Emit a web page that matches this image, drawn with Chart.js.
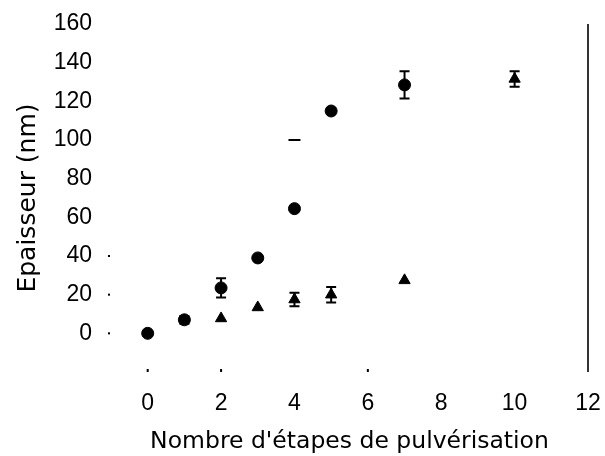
<!DOCTYPE html>
<html><head><meta charset="utf-8">
<script src="https://cdn.jsdelivr.net/npm/chart.js@4.4.0/dist/chart.umd.min.js"></script>
<style>html,body{margin:0;padding:0;background:#fff}#wrap{width:605px;height:456px}</style>
</head><body><div id="wrap"><canvas id="c" width="605" height="456"></canvas></div>
<script>
const circleX = [0, 1, 2, 3, 4, 5, 7];
const circleY = [0, 7, 23.5, 39, 64.5, 115, 128.5];
const circleErr = [0, 2, 5, 0, 0, 1.5, 7];
const triX = [2, 3, 4, 5, 7, 10];
const triY = [7.7, 13.4, 17.5, 20, 27.4, 131.6];
const triErr = [0, 0, 3.5, 4, 0, 4];
const strayX = [4];
const strayY = [100];
const xTicks = [0, 2, 4, 6, 8, 10, 12];
const yTicks = [0, 20, 40, 60, 80, 100, 120, 140, 160];
const xTickDots = [0, 2, 6];
const yTickDots = [0, 20, 40];
const xTitle = "Nombre d'étapes de pulvérisation";
const yTitle = "Epaisseur (nm)";

const FONT = "'Liberation Sans', Arial, sans-serif";
const TFONT = "'DejaVu Sans', sans-serif";
const toPts = (xs, ys) => xs.map((x, i) => ({x, y: ys[i]}));

const errPlugin = {
  id: 'errbars',
  afterDatasetsDraw(chart) {
    const ctx = chart.ctx, xs = chart.scales.x, ys = chart.scales.y;
    ctx.save();
    ctx.strokeStyle = '#000';
    ctx.lineWidth = 2;
    const sets = [[circleX, circleY, circleErr], [triX, triY, triErr]];
    sets.forEach(([X, Y, E]) => {
      X.forEach((x, i) => {
        if (!E[i]) return;
        const px = xs.getPixelForValue(x);
        const p1 = ys.getPixelForValue(Y[i] + E[i]);
        const p2 = ys.getPixelForValue(Y[i] - E[i]);
        ctx.beginPath();
        ctx.moveTo(px, p1); ctx.lineTo(px, p2);
        ctx.moveTo(px - 5, p1); ctx.lineTo(px + 5, p1);
        ctx.moveTo(px - 5, p2); ctx.lineTo(px + 5, p2);
        ctx.stroke();
      });
    });
    ctx.fillStyle = '#000';
    const left = xs.getPixelForValue(-1);
    yTickDots.forEach(v => { ctx.fillRect(left - 3, ys.getPixelForValue(v) - 1, 2, 2); });
    const bot = ys.getPixelForValue(-20);
    xTickDots.forEach(v => { ctx.fillRect(xs.getPixelForValue(v) - 1, bot - 3, 2, 3); });
    ctx.strokeStyle = '#333';
    ctx.lineWidth = 2;
    const rx = xs.getPixelForValue(12);
    ctx.beginPath();
    ctx.moveTo(rx, ys.getPixelForValue(160));
    ctx.lineTo(rx, ys.getPixelForValue(-20));
    ctx.stroke();
    ctx.restore();
  }
};

new Chart(document.getElementById('c'), {
  type: 'scatter',
  data: {
    datasets: [
      {data: toPts(circleX, circleY), pointStyle: 'circle', pointRadius: 6, backgroundColor: '#000', borderColor: '#000', borderWidth: 1},
      {data: toPts(triX, triY), pointStyle: 'triangle', pointRadius: 6.5, backgroundColor: '#000', borderColor: '#000', borderWidth: 1},
      {data: toPts(strayX, strayY), pointStyle: 'line', pointRadius: 6, borderColor: '#000', borderWidth: 2}
    ]
  },
  options: {
    responsive: false,
    animation: false,
    events: [],
    layout: {padding: {top: 24, right: 17, left: 0, bottom: 0}},
    plugins: {legend: {display: false}, tooltip: {enabled: false}},
    scales: {
      x: {
        type: 'linear', min: -1, max: 12,
        grid: {display: false, drawTicks: false},
        border: {display: false},
        afterBuildTicks: s => { s.ticks = xTicks.map(v => ({value: v})); },
        ticks: {color: '#000', font: {family: FONT, size: 23}, padding: 18, maxRotation: 0, autoSkip: false},
        title: {display: true, text: xTitle, color: '#000', font: {family: TFONT, size: 23.5}, padding: {top: 8, bottom: 0}},
        afterFit: s => { s.height = 84; s.paddingLeft = 0; s.paddingRight = 0; }
      },
      y: {
        type: 'linear', min: -20, max: 160,
        grid: {display: false, drawTicks: false},
        border: {display: false},
        afterBuildTicks: s => { s.ticks = yTicks.map(v => ({value: v})); },
        ticks: {color: '#000', font: {family: FONT, size: 23}, padding: 19},
        title: {display: true, text: yTitle, color: '#000', font: {family: TFONT, size: 25}, padding: {top: 13, bottom: 3}},
        afterFit: s => { s.width = 111; s.paddingTop = 0; s.paddingBottom = 0; }
      }
    }
  },
  plugins: [errPlugin]
});
</script></body></html>
